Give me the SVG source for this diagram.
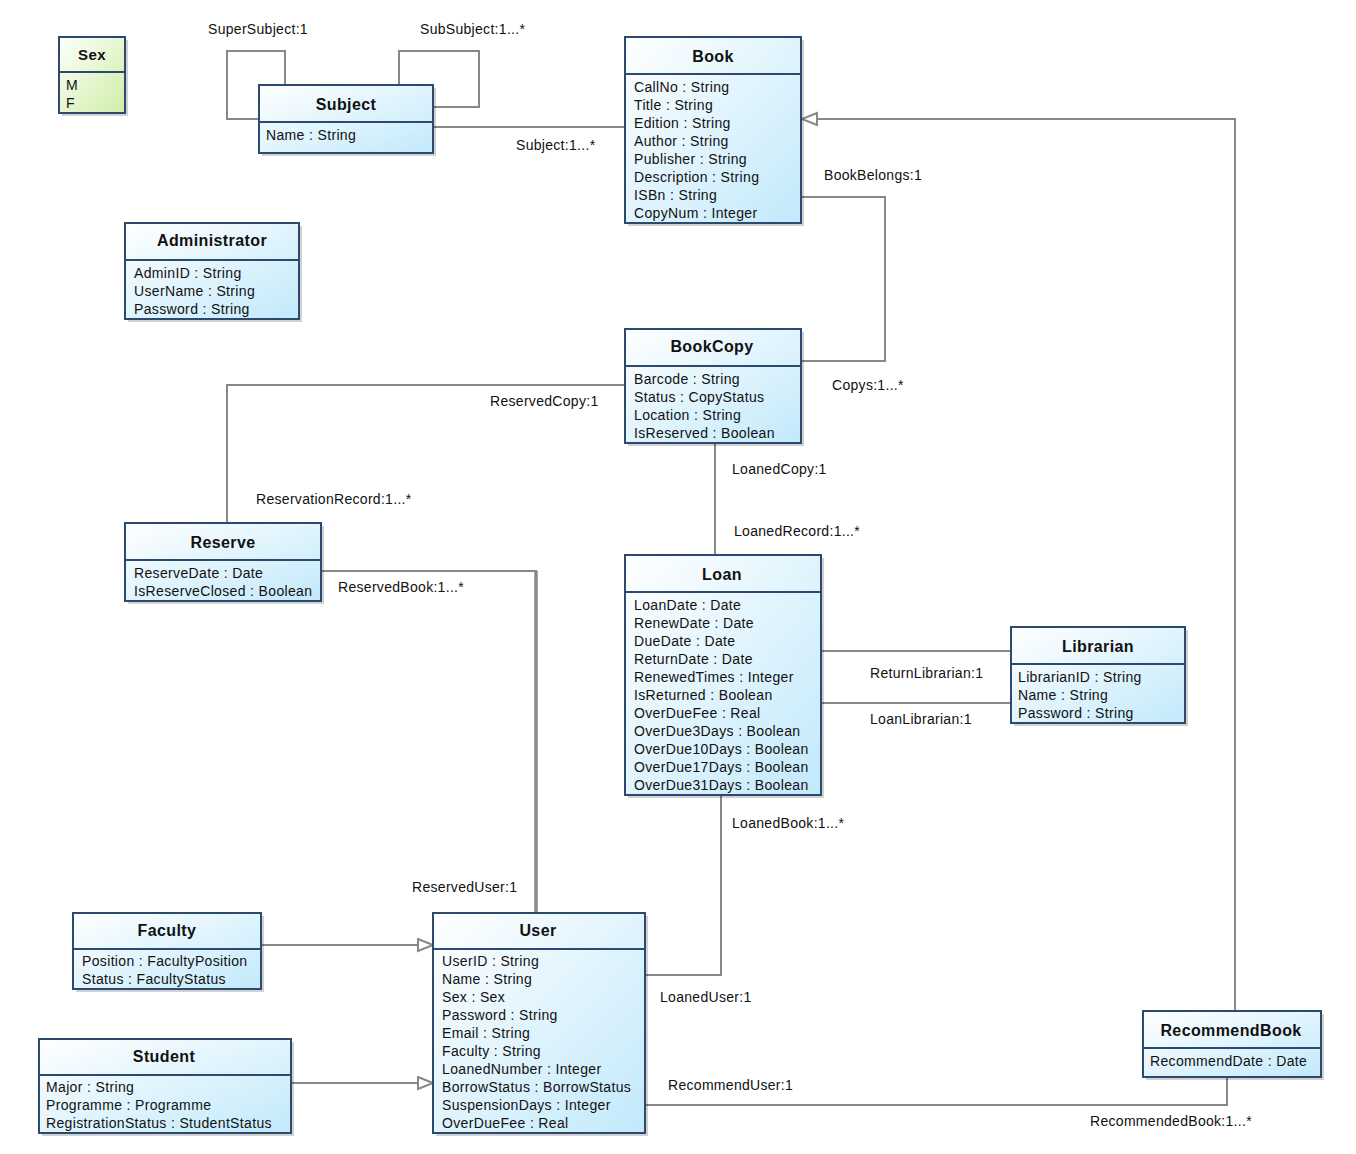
<svg xmlns="http://www.w3.org/2000/svg" width="1356" height="1154" viewBox="0 0 1356 1154">
<style>
.box{stroke:#2b4a6e;stroke-width:2;fill:url(#blue)}
.green{fill:url(#green)}
.shadow{fill:#000;opacity:0.18}
.sep{stroke:#2b4a6e;stroke-width:2}
.title{font-family:"Liberation Sans",Arial,sans-serif;font-size:16px;font-weight:bold;text-anchor:middle;fill:#111;letter-spacing:0.4px}
.attr{font-family:"Liberation Sans",Arial,sans-serif;font-size:14px;fill:#111;letter-spacing:0.35px}
.lbl{font-family:"Liberation Sans",Arial,sans-serif;font-size:14px;fill:#111;letter-spacing:0.3px}
.conn{fill:none;stroke:#888;stroke-width:2}
</style>
<defs>
<linearGradient id="blue" x1="0" y1="0" x2="1" y2="1">
<stop offset="0" stop-color="#ffffff"/>
<stop offset="1" stop-color="#c2e9fb"/>
</linearGradient>
<linearGradient id="green" x1="0" y1="0" x2="1" y2="1">
<stop offset="0" stop-color="#ffffff"/>
<stop offset="1" stop-color="#cdeea5"/>
</linearGradient>
<marker id="gen" markerUnits="userSpaceOnUse" markerWidth="18" markerHeight="16" refX="16" refY="7" orient="auto">
<path d="M1,1 L16,7 L1,13 z" fill="#fff" stroke="#888" stroke-width="2"/>
</marker>
</defs>
<rect width="1356" height="1154" fill="#fff"/>

<g id="connectors">
<path class="conn" d="M285,85 V51 H227 V119 H259"/>
<path class="conn" d="M399,85 V51 H479 V107 H433"/>
<path class="conn" d="M433,127 H625"/>
<path class="conn" d="M801,197 H885 V361 H801"/>
<path class="conn" d="M625,385 H227 V523"/>
<path class="conn" d="M715,443 V555"/>
<path class="conn" d="M321,571 H537"/>
<path class="conn" d="M536,571 V913" style="stroke-width:3.5"/>
<path class="conn" d="M821,651 H1011"/>
<path class="conn" d="M821,703 H1011"/>
<path class="conn" d="M721,795 V975 H645"/>
<path class="conn" d="M645,1105 H1227 V1077"/>
<path class="conn" d="M1235,1011 V119 H802" marker-end="url(#gen)"/>
<path class="conn" d="M261,945 H433" marker-end="url(#gen)"/>
<path class="conn" d="M291,1083 H433" marker-end="url(#gen)"/>
<text class="lbl" x="208" y="34">SuperSubject:1</text>
<text class="lbl" x="420" y="34">SubSubject:1...*</text>
<text class="lbl" x="516" y="150">Subject:1...*</text>
<text class="lbl" x="824" y="180">BookBelongs:1</text>
<text class="lbl" x="832" y="390">Copys:1...*</text>
<text class="lbl" x="490" y="406">ReservedCopy:1</text>
<text class="lbl" x="256" y="504">ReservationRecord:1...*</text>
<text class="lbl" x="732" y="474">LoanedCopy:1</text>
<text class="lbl" x="734" y="536">LoanedRecord:1...*</text>
<text class="lbl" x="338" y="592">ReservedBook:1...*</text>
<text class="lbl" x="412" y="892">ReservedUser:1</text>
<text class="lbl" x="870" y="678">ReturnLibrarian:1</text>
<text class="lbl" x="870" y="724">LoanLibrarian:1</text>
<text class="lbl" x="732" y="828">LoanedBook:1...*</text>
<text class="lbl" x="660" y="1002">LoanedUser:1</text>
<text class="lbl" x="668" y="1090">RecommendUser:1</text>
<text class="lbl" x="1090" y="1126">RecommendedBook:1...*</text>
</g>

<g id="Sex">
<rect class="shadow" x="62" y="40" width="66" height="76"/>
<rect class="box green" x="59" y="37" width="66" height="76"/>
<line class="sep" x1="59" y1="72" x2="125" y2="72"/>
<text class="title" x="92" y="60" style="font-size:15px">Sex</text>
<text class="attr" x="66" y="90">M</text>
<text class="attr" x="66" y="108">F</text>
</g>

<g id="Subject">
<rect class="shadow" x="262" y="88" width="174" height="68"/>
<rect class="box" x="259" y="85" width="174" height="68"/>
<line class="sep" x1="259" y1="122" x2="433" y2="122"/>
<text class="title" x="346" y="110">Subject</text>
<text class="attr" x="266" y="140">Name : String</text>
</g>

<g id="Book">
<rect class="shadow" x="628" y="40" width="176" height="186"/>
<rect class="box" x="625" y="37" width="176" height="186"/>
<line class="sep" x1="625" y1="74" x2="801" y2="74"/>
<text class="title" x="713" y="62">Book</text>
<text class="attr" x="634" y="92">CallNo : String</text>
<text class="attr" x="634" y="110">Title : String</text>
<text class="attr" x="634" y="128">Edition : String</text>
<text class="attr" x="634" y="146">Author : String</text>
<text class="attr" x="634" y="164">Publisher : String</text>
<text class="attr" x="634" y="182">Description : String</text>
<text class="attr" x="634" y="200">ISBn : String</text>
<text class="attr" x="634" y="218">CopyNum : Integer</text>
</g>

<g id="Administrator">
<rect class="shadow" x="128" y="226" width="174" height="96"/>
<rect class="box" x="125" y="223" width="174" height="96"/>
<line class="sep" x1="125" y1="260" x2="299" y2="260"/>
<text class="title" x="212" y="246">Administrator</text>
<text class="attr" x="134" y="278">AdminID : String</text>
<text class="attr" x="134" y="296">UserName : String</text>
<text class="attr" x="134" y="314">Password : String</text>
</g>

<g id="BookCopy">
<rect class="shadow" x="628" y="332" width="176" height="114"/>
<rect class="box" x="625" y="329" width="176" height="114"/>
<line class="sep" x1="625" y1="366" x2="801" y2="366"/>
<text class="title" x="712" y="352">BookCopy</text>
<text class="attr" x="634" y="384">Barcode : String</text>
<text class="attr" x="634" y="402">Status : CopyStatus</text>
<text class="attr" x="634" y="420">Location : String</text>
<text class="attr" x="634" y="438">IsReserved : Boolean</text>
</g>

<g id="Reserve">
<rect class="shadow" x="128" y="526" width="196" height="78"/>
<rect class="box" x="125" y="523" width="196" height="78"/>
<line class="sep" x1="125" y1="560" x2="321" y2="560"/>
<text class="title" x="223" y="548">Reserve</text>
<text class="attr" x="134" y="578">ReserveDate : Date</text>
<text class="attr" x="134" y="596">IsReserveClosed : Boolean</text>
</g>

<g id="Loan">
<rect class="shadow" x="628" y="558" width="196" height="240"/>
<rect class="box" x="625" y="555" width="196" height="240"/>
<line class="sep" x1="625" y1="592" x2="821" y2="592"/>
<text class="title" x="722" y="580">Loan</text>
<text class="attr" x="634" y="610">LoanDate : Date</text>
<text class="attr" x="634" y="628">RenewDate : Date</text>
<text class="attr" x="634" y="646">DueDate : Date</text>
<text class="attr" x="634" y="664">ReturnDate : Date</text>
<text class="attr" x="634" y="682">RenewedTimes : Integer</text>
<text class="attr" x="634" y="700">IsReturned : Boolean</text>
<text class="attr" x="634" y="718">OverDueFee : Real</text>
<text class="attr" x="634" y="736">OverDue3Days : Boolean</text>
<text class="attr" x="634" y="754">OverDue10Days : Boolean</text>
<text class="attr" x="634" y="772">OverDue17Days : Boolean</text>
<text class="attr" x="634" y="790">OverDue31Days : Boolean</text>
</g>

<g id="Librarian">
<rect class="shadow" x="1014" y="630" width="174" height="96"/>
<rect class="box" x="1011" y="627" width="174" height="96"/>
<line class="sep" x1="1011" y1="664" x2="1185" y2="664"/>
<text class="title" x="1098" y="652">Librarian</text>
<text class="attr" x="1018" y="682">LibrarianID : String</text>
<text class="attr" x="1018" y="700">Name : String</text>
<text class="attr" x="1018" y="718">Password : String</text>
</g>

<g id="Faculty">
<rect class="shadow" x="76" y="916" width="188" height="76"/>
<rect class="box" x="73" y="913" width="188" height="76"/>
<line class="sep" x1="73" y1="949" x2="261" y2="949"/>
<text class="title" x="167" y="936">Faculty</text>
<text class="attr" x="82" y="966">Position : FacultyPosition</text>
<text class="attr" x="82" y="984">Status : FacultyStatus</text>
</g>

<g id="User">
<rect class="shadow" x="436" y="916" width="212" height="220"/>
<rect class="box" x="433" y="913" width="212" height="220"/>
<line class="sep" x1="433" y1="949" x2="645" y2="949"/>
<text class="title" x="538" y="936">User</text>
<text class="attr" x="442" y="966">UserID : String</text>
<text class="attr" x="442" y="984">Name : String</text>
<text class="attr" x="442" y="1002">Sex : Sex</text>
<text class="attr" x="442" y="1020">Password : String</text>
<text class="attr" x="442" y="1038">Email : String</text>
<text class="attr" x="442" y="1056">Faculty : String</text>
<text class="attr" x="442" y="1074">LoanedNumber : Integer</text>
<text class="attr" x="442" y="1092">BorrowStatus : BorrowStatus</text>
<text class="attr" x="442" y="1110">SuspensionDays : Integer</text>
<text class="attr" x="442" y="1128">OverDueFee : Real</text>
</g>

<g id="Student">
<rect class="shadow" x="42" y="1042" width="252" height="94"/>
<rect class="box" x="39" y="1039" width="252" height="94"/>
<line class="sep" x1="39" y1="1075" x2="291" y2="1075"/>
<text class="title" x="164" y="1062">Student</text>
<text class="attr" x="46" y="1092">Major : String</text>
<text class="attr" x="46" y="1110">Programme : Programme</text>
<text class="attr" x="46" y="1128">RegistrationStatus : StudentStatus</text>
</g>

<g id="RecommendBook">
<rect class="shadow" x="1146" y="1014" width="178" height="66"/>
<rect class="box" x="1143" y="1011" width="178" height="66"/>
<line class="sep" x1="1143" y1="1048" x2="1321" y2="1048"/>
<text class="title" x="1231" y="1036">RecommendBook</text>
<text class="attr" x="1150" y="1066">RecommendDate : Date</text>
</g>
</svg>
